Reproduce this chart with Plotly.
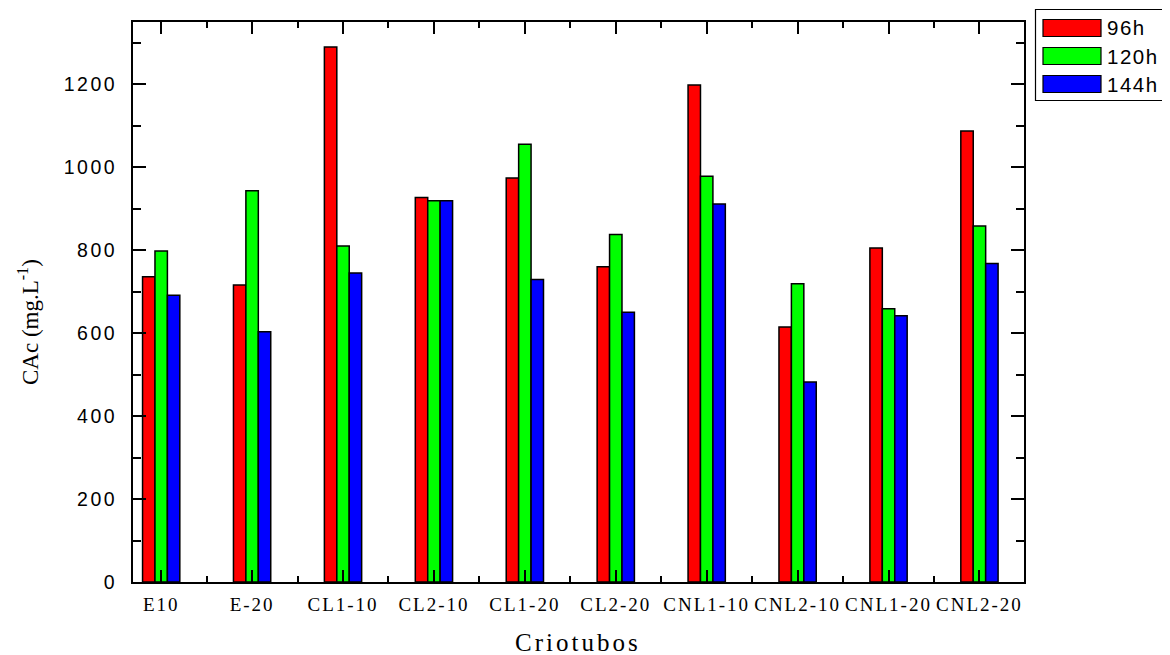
import plotly.graph_objects as go

categories = ["E10", "E-20", "CL1-10", "CL2-10", "CL1-20", "CL2-20",
              "CNL1-10", "CNL2-10", "CNL1-20", "CNL2-20"]
series_names = ["96h", "120h", "144h"]
v96 = [736, 716, 1290, 927, 974, 760, 1198, 615, 805, 1087]
v120 = [798, 943, 810, 919, 1055, 838, 978, 719, 659, 858]
v144 = [691, 603, 745, 919, 729, 650, 911, 482, 642, 768]
colors = ["#FF0000", "#00FF00", "#0000FF"]
y_ticks = [0, 200, 400, 600, 800, 1000, 1200]
x_title = "Criotubos"
y_title = "CAc (mg.L<sup>-1</sup>)"

xpos = list(range(len(categories)))

OFF = 8  # page body margin
W, H = 1170 - OFF, 655 - OFF
ML, MT = 133 - OFF, 22 - OFF
PW, PH = 891, 560
MR, MB = W - ML - PW, H - MT - PH


def spaced(t, sp):
    return f'<span style="letter-spacing:{sp}px">{t}</span>'


fig = go.Figure()
for name, vals, c in zip(series_names, [v96, v120, v144], colors):
    fig.add_trace(go.Bar(
        x=xpos, y=vals, name=name,
        marker=dict(color=c, line=dict(color="black", width=1.5)),
        showlegend=False,
    ))

axis_common = dict(showline=True, linecolor="black", linewidth=2,
                   mirror="allticks", ticks="inside", tickwidth=2,
                   tickcolor="black", showgrid=False, zeroline=False)

fig.update_layout(
    width=W, height=H,
    margin=dict(l=ML, r=MR, t=MT, b=MB),
    paper_bgcolor="white", plot_bgcolor="white",
    barmode="group", bargap=0.59, bargroupgap=0,
    xaxis=dict(
        **axis_common,
        range=[-0.31, 9.49],
        tickmode="array", tickvals=xpos,
        ticktext=[spaced(c, 2) for c in categories],
        ticklen=12,
        ticklabelstandoff=4,
        tickfont=dict(family="Liberation Serif", size=19, color="black"),
        minor=dict(tickmode="array", tickvals=[i + 0.5 for i in range(len(categories) - 1)],
                   ticks="inside", ticklen=6, tickwidth=2, tickcolor="black"),
    ),
    yaxis=dict(
        **axis_common,
        range=[0, 1350],
        tickmode="array", tickvals=y_ticks,
        ticktext=[spaced(v, 2.5) for v in y_ticks],
        ticklen=13,
        ticklabelstandoff=10,
        tickfont=dict(family="Liberation Sans", size=19.5, color="black"),
        minor=dict(dtick=100, ticks="inside", ticklen=8, tickwidth=2, tickcolor="black"),
    ),
)


def px_x(p):
    return (p - OFF - ML) / PW


def px_y(p):
    return (MT + PH - (p - OFF)) / PH


# axis titles placed at their pixel positions
fig.add_annotation(xref="paper", yref="paper", x=px_x(578), y=px_y(642),
                   text=spaced(x_title, 3), showarrow=False,
                   xanchor="center", yanchor="middle",
                   font=dict(family="Liberation Serif", size=25, color="black"))
fig.add_annotation(xref="paper", yref="paper", x=px_x(28), y=px_y(322),
                   text=y_title, showarrow=False, textangle=-90,
                   xanchor="center", yanchor="middle",
                   font=dict(family="Liberation Serif", size=23, color="black"))

# custom legend
fig.add_shape(type="rect", xref="paper", yref="paper",
              x0=px_x(1035.5), x1=px_x(1185), y0=px_y(100.5), y1=px_y(9.5),
              line=dict(color="black", width=1.2), fillcolor="white")
sw_tops = [19.5, 47.5, 75.5]
for name, c, top in zip(series_names, colors, sw_tops):
    fig.add_shape(type="rect", xref="paper", yref="paper",
                  x0=px_x(1043), x1=px_x(1101), y0=px_y(top + 17), y1=px_y(top),
                  line=dict(color="black", width=1.2), fillcolor=c)
    fig.add_annotation(xref="paper", yref="paper", x=px_x(1105), y=px_y(top + 8.5),
                       text=spaced(name, 1.5), showarrow=False, xanchor="left", yanchor="middle",
                       font=dict(family="Liberation Sans", size=20.5, color="black"))

fig.write_html("out.html")
